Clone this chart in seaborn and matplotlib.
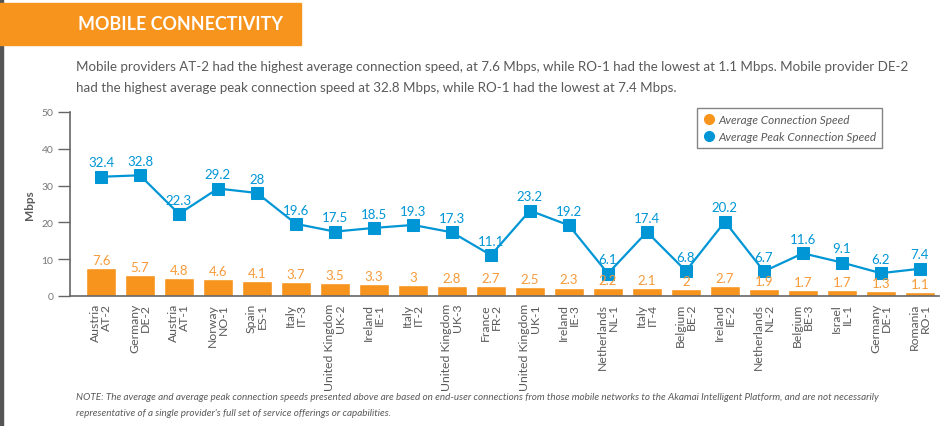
import numpy as np
import pandas as pd
import seaborn as sns
import matplotlib
matplotlib.use("Agg")
import matplotlib.pyplot as plt
from matplotlib.patches import Rectangle
from matplotlib.lines import Line2D

countries = ["Austria", "Germany", "Austria", "Norway", "Spain", "Italy", "United Kingdom",
             "Ireland", "Italy", "United Kingdom", "France", "United Kingdom", "Ireland",
             "Netherlands", "Italy", "Belgium", "Ireland", "Netherlands", "Belgium", "Israel",
             "Germany", "Romania"]
providers = ["AT-2", "DE-2", "AT-1", "NO-1", "ES-1", "IT-3", "UK-2", "IE-1", "IT-2", "UK-3",
             "FR-2", "UK-1", "IE-3", "NL-1", "IT-4", "BE-2", "IE-2", "NL-2", "BE-3", "IL-1",
             "DE-1", "RO-1"]
avg_speed = [7.6, 5.7, 4.8, 4.6, 4.1, 3.7, 3.5, 3.3, 3, 2.8, 2.7, 2.5, 2.3, 2.2, 2.1, 2,
             2.7, 1.9, 1.7, 1.7, 1.3, 1.1]
peak_speed = [32.4, 32.8, 22.3, 29.2, 28, 19.6, 17.5, 18.5, 19.3, 17.3, 11.1, 23.2, 19.2,
              6.1, 17.4, 6.8, 20.2, 6.7, 11.6, 9.1, 6.2, 7.4]
y_ticks = [0, 10, 20, 30, 40, 50]

ORANGE = "#F7941D"
ORANGE_TXT = "#F79A3A"
BLUE = "#0096D6"
GRAY = "#5a5a5a"

sns.set_style("white")
FONT = ["Lato", "DejaVu Sans"]
plt.rcParams["font.family"] = FONT

df = pd.DataFrame({"provider": providers, "country": countries,
                   "avg": avg_speed, "peak": peak_speed})
df["pos"] = np.arange(len(df))

W, H = 952, 427
fig = plt.figure(figsize=(W / 100, H / 100), dpi=100)

def fx(px):
    return px / W

def fy(py):
    return 1 - py / H

# left dark strip
fig.patches.append(Rectangle((0, 0), fx(3), 1, transform=fig.transFigure,
                             color="#555555", zorder=0))
# title band
fig.patches.append(Rectangle((0, fy(46)), fx(301), fy(4) - fy(46), transform=fig.transFigure,
                             color=ORANGE, zorder=0))
fig.text(fx(78), fy(25), "MOBILE CONNECTIVITY", color="white", fontsize=12.9,
         fontweight="bold", va="center", ha="left")

fig.text(fx(76), fy(67), "Mobile providers AT-2 had the highest average connection speed, at 7.6 Mbps, "
         "while RO-1 had the lowest at 1.1 Mbps. Mobile provider DE-2",
         color=GRAY, fontsize=9.6, va="center", ha="left")
fig.text(fx(76), fy(88), "had the highest average peak connection speed at 32.8 Mbps, "
         "while RO-1 had the lowest at 7.4 Mbps.",
         color=GRAY, fontsize=9.6, va="center", ha="left")

fig.text(fx(76), fy(398), "NOTE: The average and average peak connection speeds presented above are based on "
         "end-user connections from those mobile networks to the Akamai Intelligent Platform, "
         "and are not necessarily", color=GRAY, fontsize=7.1, style="italic", va="center", ha="left")
fig.text(fx(76), fy(414), "representative of a single provider's full set of service offerings or capabilities.",
         color=GRAY, fontsize=7.1, style="italic", va="center", ha="left")

ax = fig.add_axes([fx(70), fy(297), fx(939) - fx(70), fy(113) - fy(297)])
ax.set_facecolor("none")

sns.barplot(data=df, x="pos", y="avg", color=ORANGE, width=0.75, ax=ax,
            saturation=1, native_scale=True, zorder=2)
sns.lineplot(data=df, x="pos", y="peak", color=BLUE, linewidth=1.6, marker="s",
             markersize=8, markeredgecolor=BLUE, ax=ax, zorder=3)

for x, a, p in zip(df["pos"], df["avg"], df["peak"]):
    ax.annotate(f"{a:g}", (x, a), xytext=(0, 1.5), textcoords="offset points",
                color=ORANGE_TXT, fontsize=9.5, ha="center", va="bottom")
    ax.annotate(f"{p:g}", (x, p), xytext=(0, 6), textcoords="offset points",
                color=BLUE, fontsize=9.5, ha="center", va="bottom")

ax.set_xlim(-0.795, 21.49)
ax.set_ylim(0, 50)
ax.set_yticks(y_ticks)
ax.set_yticklabels([str(t) for t in y_ticks], color="#777777", fontsize=7.5)
ax.set_xticks(df["pos"])
ax.set_xticklabels([f"{c}\n{p}" for c, p in zip(countries, providers)], rotation=90,
                   color=GRAY, fontsize=8.8, va="top", ha="center", multialignment="right",
                   linespacing=1.0)
ax.tick_params(axis="y", direction="out", length=9, width=1, color="#666666", left=True, pad=3)
ax.tick_params(axis="x", length=0, pad=5)
for s in ["top", "right"]:
    ax.spines[s].set_visible(False)
for s in ["left", "bottom"]:
    ax.spines[s].set_color("#666666")
    ax.spines[s].set_linewidth(1.2)
ax.set_xlabel("")
ax.set_ylabel("Mbps", fontsize=8.5, fontweight="bold", color=GRAY, labelpad=5)

handles = [Line2D([], [], marker="o", color="none", markerfacecolor=ORANGE,
                  markeredgecolor=ORANGE, markersize=7),
           Line2D([], [], marker="o", color="none", markerfacecolor=BLUE,
                  markeredgecolor=BLUE, markersize=7)]
leg = fig.legend(handles, ["Average Connection Speed", "Average Peak Connection Speed"],
                 loc="upper left", bbox_to_anchor=(fx(697), fy(109)), frameon=True,
                 fancybox=False, prop={"style": "italic", "size": 8.5},
                 handletextpad=0.3, handlelength=1.0, borderpad=0.5, labelspacing=0.55,
                 borderaxespad=0)
leg.get_frame().set_edgecolor("#666666")
leg.get_frame().set_linewidth(1)
for t in leg.get_texts():
    t.set_color(GRAY)

fig.savefig("out.png", dpi=100)
